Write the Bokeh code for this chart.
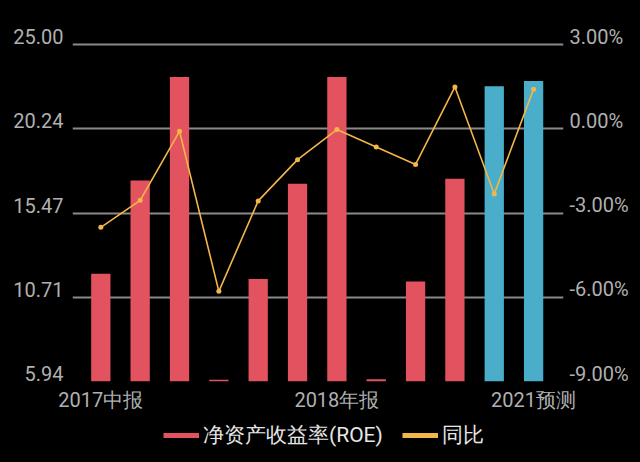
from bokeh.plotting import figure
from bokeh.layouts import column
from bokeh.models import (ColumnDataSource, Range1d, LinearAxis, FixedTicker,
                          Legend, LegendItem, PrintfTickFormatter)
from bokeh.embed import file_html
from bokeh.resources import INLINE

# ---- data ----
periods = ["2017中报", "2017三季报", "2017年报", "2018一季报", "2018中报", "2018三季报",
           "2018年报", "2019一季报", "2019中报", "2019三季报", "2020预测", "2021预测"]
roe = [12.03, 17.31, 23.16, 6.04, 11.74, 17.12, 23.16, 6.07, 11.59, 17.41, 22.64, 22.94]
is_forecast = [False] * 10 + [True] * 2
yoy = [-3.51, -2.55, -0.09, -5.79, -2.57, -1.10, -0.03, -0.65, -1.27, 1.49, -2.32, 1.41]
left_ticks = [5.94, 10.71, 15.47, 20.24, 25.00]
right_ticks = [-9.0, -6.0, -3.0, 0.0, 3.0]
shown_labels = {0: "2017中报", 6: "2018年报", 11: "2021预测"}
legend_labels = ["净资产收益率(ROE)", "同比"]

RED = "#e2535f"
BLUE = "#4aaecb"
ORANGE = "#f2b649"
GRID = "#8a8a8a"
TXT = "#b0b0b0"
FONT = "Roboto"
BLACK = {"background-color": "black"}

# layout constants (pixels)
GRID_PX = 337          # distance between lowest and highest gridline
LIFT_PX = 8            # tick labels sit slightly above their gridlines

l_lo, l_hi = left_ticks[0], left_ticks[-1]
r_lo, r_hi = right_ticks[0], right_ticks[-1]
l_lift = LIFT_PX * (l_hi - l_lo) / GRID_PX
r_lift = LIFT_PX * (r_hi - r_lo) / GRID_PX

idx = list(range(len(periods)))
src = ColumnDataSource(dict(
    x=idx, roe=roe, yoy=yoy,
    color=[BLUE if f else RED for f in is_forecast],
))

p = figure(width=640, height=420, output_backend="svg", toolbar_location=None,
           x_range=Range1d(-0.72, 11.76), y_range=Range1d(l_lo, l_hi + l_lift),
           min_border_left=72, min_border_right=77, min_border_top=44 - LIFT_PX,
           min_border_bottom=39, styles=BLACK)
p.background_fill_color = "black"
p.border_fill_color = "black"
p.outline_line_color = None

p.extra_y_ranges = {
    "pct": Range1d(r_lo, r_hi + r_lift),
    "lab_l": Range1d(l_lo - l_lift, l_hi),
    "lab_r": Range1d(r_lo - r_lift, r_hi),
}

p.vbar(x="x", top="roe", bottom=l_lo, width=0.49, source=src, fill_color="color", line_color=None)
p.line(x="x", y="yoy", source=src, line_color=ORANGE, line_width=1.6, y_range_name="pct")
p.scatter(x="x", y="yoy", source=src, size=5, fill_color=ORANGE, line_color=None, y_range_name="pct")

# axes
p.xaxis.ticker = FixedTicker(ticks=list(shown_labels.keys()))
p.xaxis.major_label_overrides = shown_labels
p.yaxis.visible = False

ly = LinearAxis(y_range_name="lab_l", ticker=FixedTicker(ticks=left_ticks),
                formatter=PrintfTickFormatter(format="%.2f"))
ry = LinearAxis(y_range_name="lab_r", ticker=FixedTicker(ticks=right_ticks),
                formatter=PrintfTickFormatter(format="%.2f%%"))
p.add_layout(ly, "left")
p.add_layout(ry, "right")

for ax in [p.xaxis[0], ly, ry]:
    ax.axis_line_color = None
    ax.major_tick_line_color = None
    ax.minor_tick_line_color = None
    ax.major_tick_out = 0
    ax.major_tick_in = 0
    ax.minor_tick_out = 0
    ax.minor_tick_in = 0
    ax.major_label_text_color = TXT
    ax.major_label_text_font = FONT
    ax.major_label_text_font_size = "20px"
p.xaxis.major_label_standoff = 6
ly.major_label_standoff = 9
ry.major_label_standoff = 6

p.xgrid.grid_line_color = None
p.ygrid.ticker = FixedTicker(ticks=left_ticks)
p.ygrid.grid_line_color = GRID
p.ygrid.grid_line_width = 2

# ---- legend strip (its frame is aligned with the chart's frame by the column) ----
p2 = figure(width=640, height=42, output_backend="svg", toolbar_location=None,
            x_range=Range1d(0, 1), y_range=Range1d(0, 1),
            x_axis_location=None, y_axis_location=None, min_border=0, styles=BLACK)
p2.background_fill_color = "black"
p2.border_fill_color = "black"
p2.outline_line_color = None
p2.grid.visible = False
# swatch renderers share the chart data but fall outside this strip's ranges
sw_roe = p2.line(x="x", y="roe", source=src, line_color=RED, line_width=5)
sw_yoy = p2.line(x="x", y="roe", source=src, line_color=ORANGE, line_width=5)
legend = Legend(items=[LegendItem(label=legend_labels[0], renderers=[sw_roe]),
                       LegendItem(label=legend_labels[1], renderers=[sw_yoy])],
                orientation="horizontal", location=(91, 13),
                background_fill_alpha=0, border_line_color=None,
                label_text_color="#e6e6e6", label_text_font=FONT, label_text_font_size="21px",
                glyph_width=36, glyph_height=20, label_standoff=4, spacing=19,
                padding=0, margin=0)
p2.add_layout(legend, "center")

layout = column(p, p2, spacing=0, styles=BLACK)
open("out.html", "w").write(file_html(layout, INLINE))
